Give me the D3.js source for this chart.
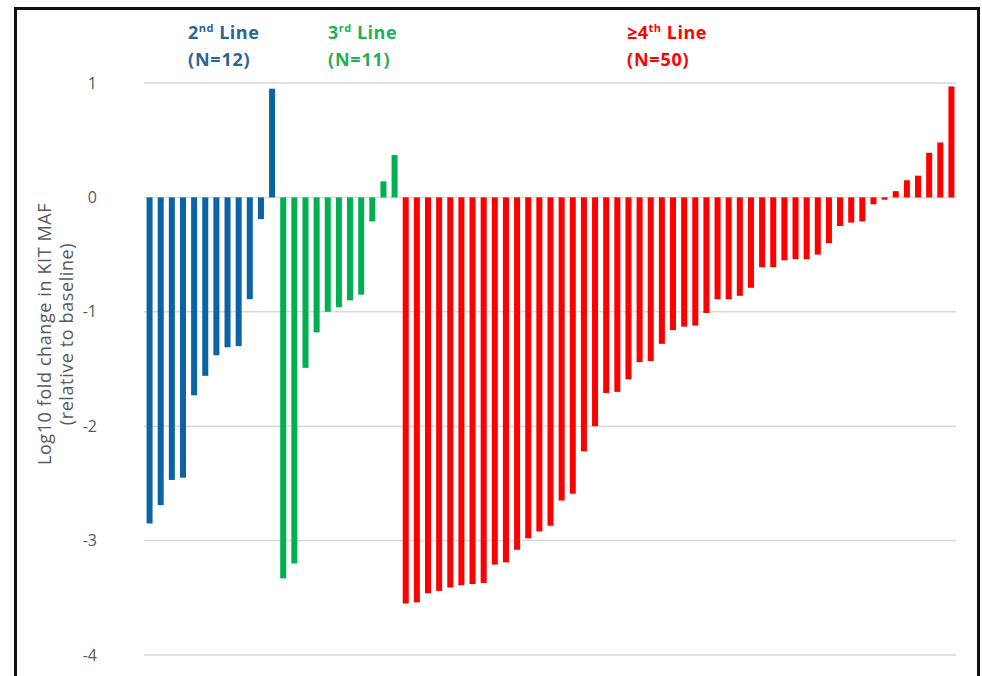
<!DOCTYPE html>
<html>
<head>
<meta charset="utf-8">
<script src="https://cdn.jsdelivr.net/npm/d3@7"></script>
<style>
  html, body { margin: 0; padding: 0; background: #ffffff; }
  svg { display: block; }
</style>
</head>
<body>
<svg id="chart" width="982" height="676"></svg>
<script>
// Log10 fold change in KIT MAF per patient, sorted within each treatment line
const line2Values = [-2.85, -2.69, -2.47, -2.45, -1.73, -1.56, -1.38, -1.31, -1.30, -0.89, -0.19, 0.95];
const line3Values = [-3.33, -3.20, -1.49, -1.18, -1.00, -0.96, -0.90, -0.85, -0.21, 0.14, 0.37];
const line4Values = [-3.55, -3.54, -3.46, -3.44, -3.41, -3.39, -3.38, -3.37, -3.21, -3.19,
                     -3.08, -2.98, -2.92, -2.87, -2.65, -2.59, -2.22, -2.00, -1.71, -1.70,
                     -1.59, -1.44, -1.43, -1.28, -1.16, -1.13, -1.12, -1.01, -0.89, -0.89,
                     -0.86, -0.79, -0.61, -0.61, -0.55, -0.54, -0.54, -0.50, -0.40, -0.25,
                     -0.22, -0.21, -0.06, -0.02, 0.055, 0.15, 0.19, 0.39, 0.48, 0.97];

const groupCounts = ["(N=12)", "(N=11)", "(N=50)"];
const yTicks = [1, 0, -1, -2, -3, -4];

const groupColors = ["#0a63a5", "#00b050", "#ff0000"];
const headerColors = ["#2b6494", "#1fb055", "#ff0000"];

const groups = [line2Values, line3Values, line4Values];
const bars = [];
groups.forEach((vals, g) => vals.forEach(v => bars.push({ id: bars.length, group: g, value: v })));

const svg = d3.select("#chart");
const font = "'Open Sans', Lato, sans-serif";

// outer frame
svg.append("rect")
  .attr("x", 15.5).attr("y", 8.5)
  .attr("width", 963).attr("height", 720)
  .attr("fill", "none").attr("stroke", "#111").attr("stroke-width", 3);

const x = d3.scaleBand()
  .domain(bars.map(d => d.id))
  .range([144, 957])
  .paddingInner(0.46)
  .paddingOuter(0.23);

const y = d3.scaleLinear().domain([-4, 1]).range([655, 83]);

// horizontal gridlines
svg.append("g")
  .selectAll("line")
  .data(yTicks)
  .join("line")
  .attr("x1", 144).attr("x2", 956)
  .attr("y1", d => y(d)).attr("y2", d => y(d))
  .attr("stroke", "#d9d9d9").attr("stroke-width", 1.5);

// y axis labels (plain hyphen for negatives)
const yAxis = svg.append("g")
  .attr("transform", "translate(97,0)")
  .call(d3.axisLeft(y).tickValues(yTicks).tickSize(0).tickPadding(0).tickFormat(d => String(d)));
yAxis.select(".domain").remove();
yAxis.selectAll("text")
  .attr("font-family", font).attr("font-size", 16).attr("fill", "#595959");

// axis title
const title = svg.append("text")
  .attr("transform", "translate(0,334) rotate(-90)")
  .attr("text-anchor", "middle")
  .attr("font-family", font).attr("font-size", 18).attr("letter-spacing", 0.6)
  .attr("fill", "#595959");
title.append("tspan").attr("x", 0).attr("y", 51).text("Log10 fold change in KIT MAF");
title.append("tspan").attr("x", 0).attr("y", 73).text("(relative to baseline)");

// bars
svg.append("g")
  .selectAll("rect")
  .data(bars)
  .join("rect")
  .attr("x", d => x(d.id))
  .attr("width", x.bandwidth())
  .attr("y", d => y(Math.max(0, d.value)))
  .attr("height", d => Math.abs(y(d.value) - y(0)))
  .attr("fill", d => groupColors[d.group]);

// group headers
const headerX = [188, 328, 627];
const headerParts = [["2", "nd", " Line"], ["3", "rd", " Line"], ["≥4", "th", " Line"]];
headerParts.forEach((p, i) => {
  const t = svg.append("text")
    .attr("x", headerX[i]).attr("y", 39)
    .attr("font-family", font).attr("font-size", 18).attr("font-weight", "bold")
    .attr("letter-spacing", 0.5)
    .attr("fill", headerColors[i]);
  t.append("tspan").text(p[0]);
  t.append("tspan").attr("font-size", 11).attr("dy", -7).text(p[1]);
  t.append("tspan").attr("dy", 7).text(p[2]);
  svg.append("text")
    .attr("x", headerX[i]).attr("y", 66)
    .attr("font-family", font).attr("font-size", 18).attr("font-weight", "bold")
    .attr("letter-spacing", 0.8)
    .attr("fill", headerColors[i])
    .text(groupCounts[i]);
});
</script>
</body>
</html>
